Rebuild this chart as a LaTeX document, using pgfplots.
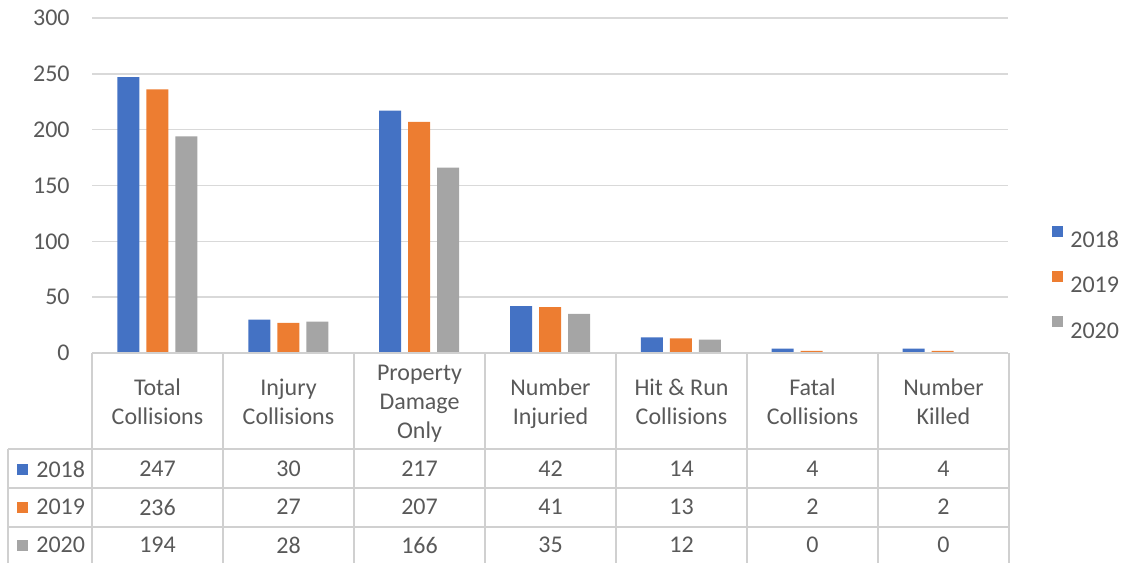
\documentclass[border=0pt]{standalone}
\usepackage{pgfplots}
\usepackage{pgfplotstable}
\usepackage{fontspec}
\setmainfont{Carlito}
\pgfplotsset{compat=1.18}
\definecolor{cBlue}{HTML}{4472C4}
\definecolor{cOrange}{HTML}{ED7D31}
\definecolor{cGray}{HTML}{A5A5A5}
\definecolor{txt}{HTML}{595959}
\definecolor{gridc}{HTML}{D9D9D9}
\definecolor{tabc}{HTML}{D0D0D0}
\pgfplotstableread{
x y2018 y2019 y2020
0 247 236 194
1 30 27 28
2 217 207 166
3 42 41 35
4 14 13 12
5 4 2 0
6 4 2 0
}\data
\begin{document}
\begin{tikzpicture}
\useasboundingbox (-46pt,-105pt) rectangle (518pt,176.5pt);
\begin{axis}[
  scale only axis,
  width=458pt, height=167.5pt,
  xmin=-0.5, xmax=6.5, ymin=0, ymax=300,
  ytick={0,50,...,300}, xtick=\empty,
  ymajorgrids, grid style={gridc, line width=0.75pt},
  axis line style={draw=none},
  major tick length=0pt,
  ybar=3.5pt, bar width=11pt,
  tick label style={font=\fontsize{12}{14.5}\selectfont, text=txt},
  yticklabel style={inner sep=0pt, xshift=-11pt},
  /pgf/number format/assume math mode=true,
  legend style={draw=none, fill=none, inner sep=0pt,
    at={(1.048,0.381)}, anchor=north west,
    font=\fontsize{12}{14.5}\selectfont, text=txt,
    nodes={inner sep=0pt, text height=8pt, text depth=0pt},
    row sep=11.6pt},
  legend cell align=left,
  legend image code/.code={\fill[#1] (0pt,1.5pt) rectangle (5.5pt,7pt);},
  /tikz/every odd column/.style={column sep=3.5pt},
]
\addplot[fill=cBlue, draw=none] table[x=x, y=y2018] {\data};
\addplot[fill=cOrange, draw=none] table[x=x, y=y2019] {\data};
\addplot[fill=cGray, draw=none] table[x=x, y=y2020] {\data};
\legend{2018,2019,2020}
\end{axis}
\begin{scope}[x=0.5pt, y=-0.5pt, xshift=-46pt, yshift=176.5pt]
  \draw[tabc, line width=0.75pt] (92,353) -- (1008,353);
  \foreach \Y in {449,488,527} \draw[tabc, line width=0.75pt] (8,\Y) -- (1008,\Y);
  \foreach \k in {0,...,7} \draw[tabc, line width=0.75pt] ({92+131*\k},353) -- ({92+131*\k},563);
  \draw[tabc, line width=0.75pt] (8,449) -- (8,563);
  \foreach \lab [count=\c from 0] in {{Total\\Collisions},{Injury\\Collisions},{Property\\Damage\\Only},{Number\\Injuried},{Hit \& Run\\Collisions},{Fatal\\Collisions},{Number\\Killed}}
    \node[align=center, inner sep=0pt, text=txt, font=\fontsize{12}{14.5}\selectfont] at ({92+131*\c+65.5},404) {\strut\lab\strut};
  \foreach \col/\Y/\cc/\yr in {y2018/469/cBlue/2018, y2019/507/cOrange/2019, y2020/545/cGray/2020} {
    \fill[\cc] (17,\Y-5.5) rectangle (28,\Y+5.5);
    \node[anchor=west, inner sep=0pt, text=txt, font=\fontsize{12}{14.5}\selectfont] at (36,\Y) {\yr};
    \foreach \c in {0,...,6} {
      \pgfplotstablegetelem{\c}{\col}\of\data
      \node[inner sep=0pt, text=txt, font=\fontsize{12}{14.5}\selectfont] at ({92+131*\c+65.5},\Y) {\pgfplotsretval};
    }
  }
\end{scope}
\end{tikzpicture}
\end{document}
